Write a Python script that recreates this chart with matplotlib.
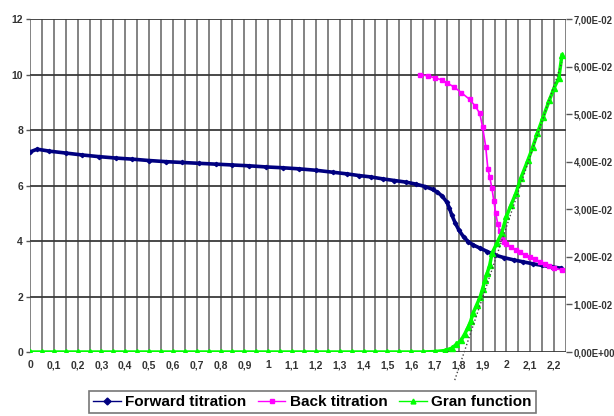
import matplotlib
matplotlib.use("Agg")
import matplotlib.pyplot as plt
from matplotlib.ticker import FuncFormatter, MultipleLocator

plt.rcParams["font.family"] = ["Liberation Sans", "DejaVu Sans"]

# Forward titration (left axis, pH)
fwd_x = [0.0, 0.03, 0.08, 0.15, 0.22, 0.29, 0.36, 0.43, 0.50, 0.57, 0.64, 0.71,
         0.78, 0.85, 0.92, 0.99, 1.06, 1.13, 1.20, 1.27, 1.33, 1.38, 1.43, 1.48,
         1.53, 1.58, 1.62, 1.66, 1.69, 1.71, 1.73, 1.75, 1.76, 1.77, 1.785, 1.80,
         1.82, 1.84, 1.86, 1.89, 1.92, 1.95, 1.99, 2.03, 2.07, 2.11, 2.15, 2.19, 2.23]
fwd_y = [7.21, 7.31, 7.24, 7.17, 7.10, 7.04, 6.99, 6.95, 6.90, 6.86, 6.83, 6.80,
         6.77, 6.74, 6.71, 6.67, 6.64, 6.60, 6.55, 6.48, 6.42, 6.36, 6.31, 6.24,
         6.18, 6.12, 6.05, 5.96, 5.86, 5.76, 5.62, 5.40, 5.20, 4.95, 4.65, 4.40,
         4.15, 3.98, 3.86, 3.74, 3.62, 3.50, 3.40, 3.32, 3.25, 3.18, 3.12, 3.07, 3.02]

# Back titration (left axis, pH)
back_x = [1.636, 1.67, 1.70, 1.73, 1.75, 1.78, 1.81, 1.846, 1.87, 1.888, 1.90, 1.913,
          1.922, 1.93, 1.939, 1.947, 1.955, 1.964, 1.972, 1.98, 1.99, 2.0, 2.02,
          2.04, 2.056, 2.08, 2.10, 2.12, 2.14, 2.16, 2.18, 2.20, 2.233]
back_y = [10.0, 9.95, 9.88, 9.80, 9.70, 9.55, 9.35, 9.10, 8.85, 8.60, 8.10, 7.40,
          6.60, 6.30, 5.90, 5.45, 5.00, 4.60, 4.35, 4.10, 3.98, 3.90, 3.78,
          3.68, 3.60, 3.50, 3.42, 3.36, 3.25, 3.18, 3.10, 3.03, 2.95]

# Gran function (right axis)
gran_x = [0.0, 0.05, 0.10, 0.15, 0.20, 0.25, 0.30, 0.35, 0.40, 0.45, 0.50, 0.55,
          0.60, 0.65, 0.70, 0.75, 0.80, 0.85, 0.90, 0.95, 1.00, 1.05, 1.10, 1.15,
          1.20, 1.25, 1.30, 1.35, 1.40, 1.45, 1.50, 1.55, 1.60, 1.65, 1.70, 1.74,
          1.77, 1.79, 1.81, 1.825, 1.84, 1.85, 1.86, 1.875, 1.89, 1.90, 1.91, 1.92,
          1.93, 1.94, 1.96, 1.98, 2.00, 2.02, 2.04, 2.06, 2.09, 2.11, 2.13, 2.155,
          2.18, 2.20, 2.22, 2.233]
gran_y = [0, 0, 0, 0, 0, 0, 0, 0, 0, 0, 0, 0,
          0, 0, 0, 0, 0, 0, 0, 0, 0, 0, 0, 0,
          0, 0, 0, 0, 0, 0, 0, 0, 0, 0, 0.0001, 0.0003,
          0.0008, 0.0016, 0.0025, 0.0038, 0.0053, 0.0065, 0.0082, 0.0099, 0.0116, 0.0133, 0.0151, 0.0167,
          0.0183, 0.0208, 0.0229, 0.0250, 0.0285, 0.0310, 0.0334, 0.0365, 0.0403, 0.0430, 0.0460, 0.0495,
          0.0529, 0.0555, 0.0576, 0.0624]

# Extrapolated linear part of Gran function
fit_x = [1.783, 2.233]
fit_y = [-0.0059, 0.0609]


def comma_fmt(v, pos):
    return f"{v:g}".replace(".", ",")


def sci_fmt(v, pos):
    return f"{v:.2E}".replace(".", ",")


fig = plt.figure(figsize=(6.14, 4.16), dpi=100)
ax = fig.add_axes([0.0489, 0.1538, 0.8729, 0.8005])
ax2 = ax.twinx()

ax.set_xlim(0, 2.25)
ax.set_ylim(0, 12)
ax2.set_ylim(0, 0.07)

ax.xaxis.set_major_locator(MultipleLocator(0.1))
ax.xaxis.set_minor_locator(MultipleLocator(0.05))
ax.yaxis.set_major_locator(MultipleLocator(2))
ax2.yaxis.set_major_locator(MultipleLocator(0.01))
ax.xaxis.set_major_formatter(FuncFormatter(comma_fmt))
ax.yaxis.set_major_formatter(FuncFormatter(comma_fmt))
ax2.yaxis.set_major_formatter(FuncFormatter(sci_fmt))

ax.grid(True, axis="x", which="both", color="#7a7a7a", linewidth=1.3)
ax.grid(True, axis="y", which="major", color="#3a3a3a", linewidth=1.3)
ax.set_axisbelow(True)
for a in (ax, ax2):
    for s in a.spines.values():
        s.set_visible(False)

ax.tick_params(axis="x", which="both", length=0, pad=6, labelsize=7.5, labelcolor="#333333")
ax.tick_params(axis="y", length=3, width=1, color="#555555", pad=2, labelsize=7.5, labelcolor="#333333")
ax2.tick_params(axis="y", length=4, width=1, color="#555555", pad=1.5, labelsize=6.9, labelcolor="#333333")
for lab in ax.get_xticklabels() + ax.get_yticklabels() + ax2.get_yticklabels():
    lab.set_fontweight("bold")

l1, = ax.plot(fwd_x, fwd_y, color="#000080", marker="D", markersize=2.2,
              linewidth=2.6, label="Forward titration")
l2, = ax.plot(back_x, back_y, color="#ff00ff", marker="s", markersize=3.5,
              linewidth=1.2, label="Back titration")
l3, = ax2.plot(gran_x, gran_y, color="#00ff00", marker="^", markersize=4,
               linewidth=2.5, label="Gran function")
ax2.plot(fit_x, fit_y, color="#444444", linestyle=":", linewidth=1.0, clip_on=False)

leg = fig.legend([l1, l2, l3], ["Forward titration", "Back titration", "Gran function"],
                 loc="upper center", bbox_to_anchor=(0.509, 0.078), ncol=3,
                 frameon=True, fancybox=False, edgecolor="#555555",
                 prop={"weight": "bold", "size": 11}, handlelength=1.8,
                 handletextpad=0.3, columnspacing=0.75, borderpad=0.25)
leg.get_frame().set_linewidth(1.2)
for h in leg.legend_handles:
    h.set_linewidth(1.0)
    h.set_markersize(3.5)

fig.savefig("out.png", dpi=100)
